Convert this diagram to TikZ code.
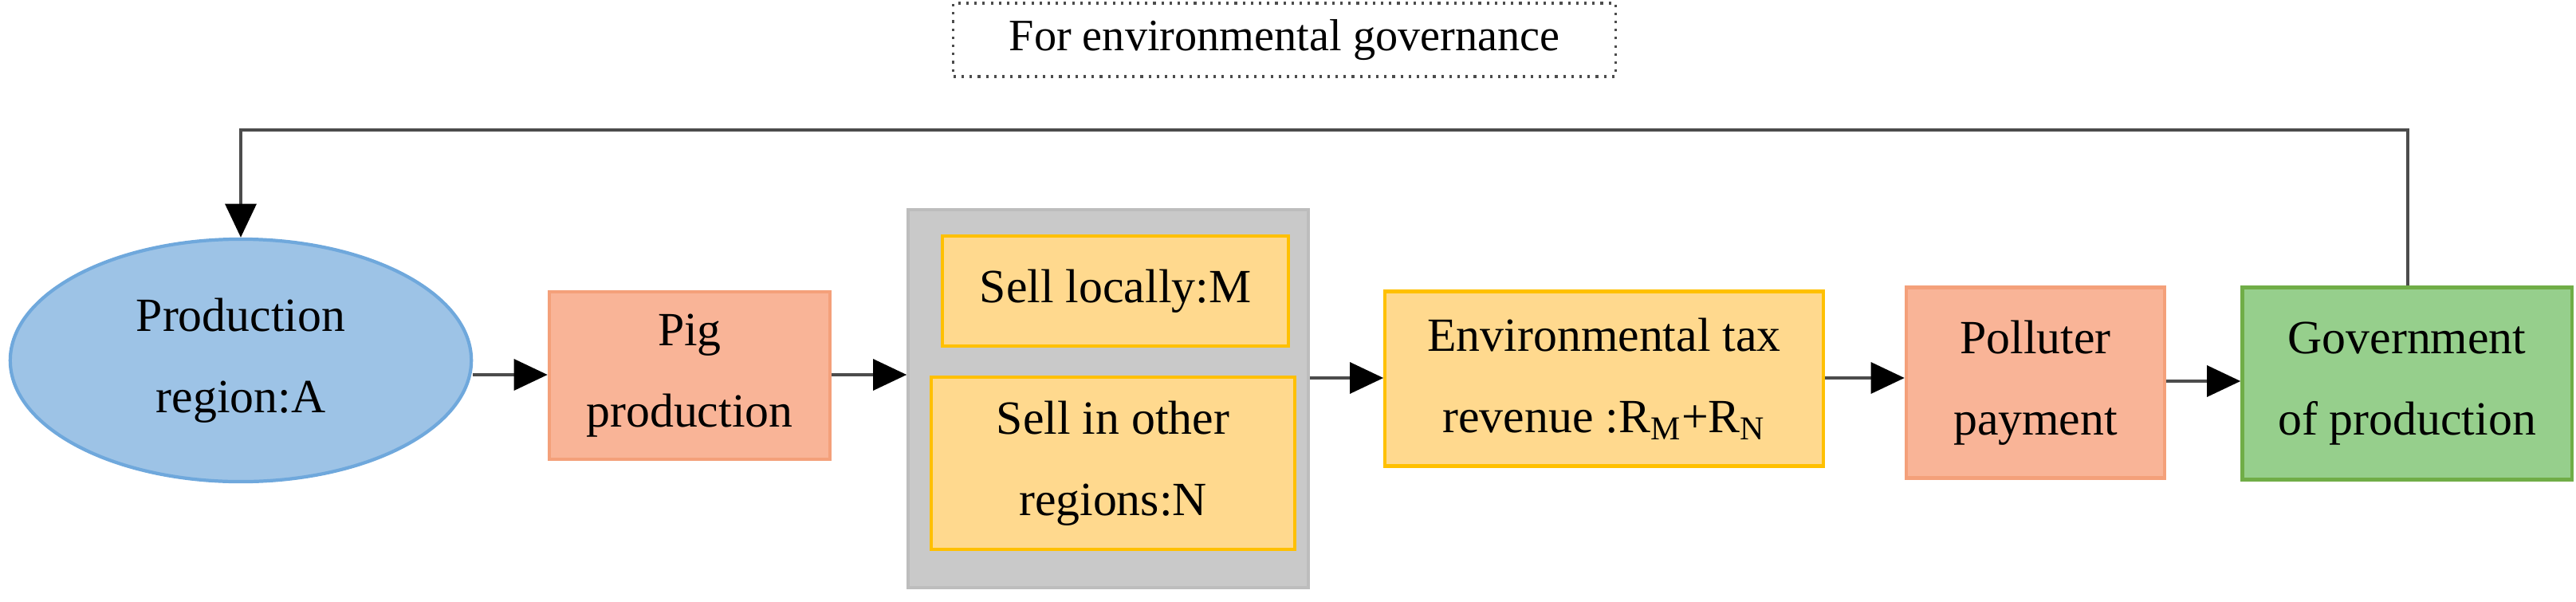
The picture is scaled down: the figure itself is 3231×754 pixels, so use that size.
\documentclass[tikz,border=0pt]{standalone}
\usepackage{fontspec}
\setmainfont{Liberation Serif}
\usetikzlibrary{shapes.geometric,arrows.meta}
\definecolor{bfill}{HTML}{9DC3E6}\definecolor{bdraw}{HTML}{6FA8DC}
\definecolor{ofill}{HTML}{F9B497}\definecolor{odraw}{HTML}{F4A07A}
\definecolor{yfill}{HTML}{FFD98E}\definecolor{ydraw}{HTML}{FFC000}
\definecolor{gfill}{HTML}{96CF8C}\definecolor{gdraw}{HTML}{70AD47}
\definecolor{grfill}{HTML}{C9C9C9}\definecolor{grdraw}{HTML}{BDBDBD}
\tikzset{
 txt/.style={font=\fontsize{17}{29}\selectfont, align=center, text=black},
 box/.style={txt, rectangle, line width=1.2pt, inner sep=0pt},
 arr/.style={draw=black!70, line width=1.3pt, -{Triangle[length=12pt,width=11pt,color=black]}}
}
\begin{document}
\begin{tikzpicture}[x=0.01cm,y=-0.01cm]
\useasboundingbox (0,0) rectangle (3231,754);
\node[txt, ellipse, fill=bfill, draw=bdraw, line width=1.2pt, minimum width=5.78cm, minimum height=3.04cm] (ell) at (302,452) {Production\\region:A};
\node[box, fill=ofill, draw=odraw, minimum width=3.52cm, minimum height=2.1cm] (pig) at (865,471) {Pig\\production};
\node[rectangle, fill=grfill, draw=grdraw, line width=1.2pt, minimum width=5.01cm, minimum height=4.73cm] (grey) at (1390,500) {};
\node[box, fill=yfill, draw=ydraw, minimum width=4.34cm, minimum height=1.38cm] (loc) at (1399,365) {Sell locally:M};
\node[box, fill=yfill, draw=ydraw, minimum width=4.55cm, minimum height=2.16cm] (oth) at (1396,581) {Sell in other\\regions:N};
\node[box, fill=yfill, draw=ydraw, minimum width=5.49cm, minimum height=2.19cm] (env) at (2012,475) {Environmental tax\\revenue :R\textsubscript{M}+R\textsubscript{N}};
\node[box, fill=ofill, draw=odraw, minimum width=3.24cm, minimum height=2.39cm] (pol) at (2553,480) {Polluter\\payment};
\node[box, fill=gfill, draw=gdraw, minimum width=4.13cm, minimum height=2.41cm] (gov) at (3019,481) {Government\\of production};
\node[draw=black!70, dotted, line width=0.9pt, minimum width=8.3cm, minimum height=0.92cm, font=\fontsize{16}{18}\selectfont] (lab) at (1611,50) {For environmental governance};
\coordinate (c1) at (3020,163);
\coordinate (c2) at (302,163);
\draw[arr] (ell.east |- 0,470) -- (pig.west |- 0,470);
\draw[arr] (pig.east |- 0,470) -- (grey.west |- 0,470);
\draw[arr] (grey.east |- 0,474) -- (env.west |- 0,474);
\draw[arr] (env.east |- 0,474) -- (pol.west |- 0,474);
\draw[arr] (pol.east |- 0,478) -- (gov.west |- 0,478);
\draw[arr] (gov.north -| c1) -- (c1) -- (c2) -- (ell.north);
\end{tikzpicture}
\end{document}
